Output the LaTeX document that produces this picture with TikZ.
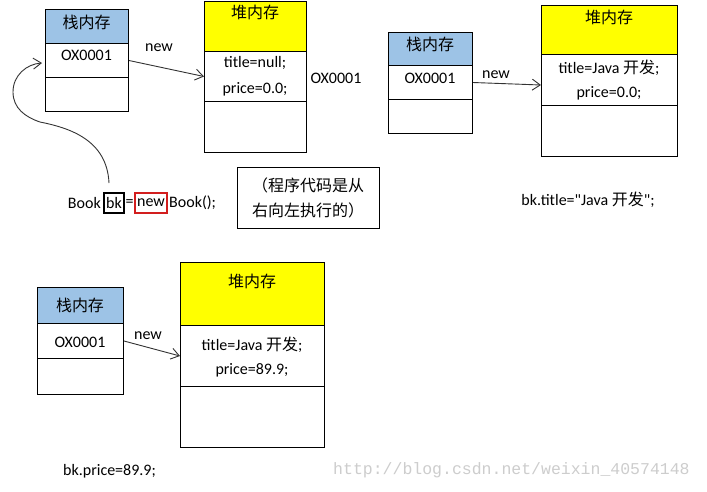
\documentclass[tikz,border=0pt]{standalone}
\usepackage{fontspec}
\setmainfont{Carlito}[Ligatures=TeXOff]
\newfontfamily\cjk{Noto Sans CJK SC}
\newfontfamily\wmfont{Liberation Mono}
\usetikzlibrary{arrows.meta}
\definecolor{stackblue}{RGB}{157,195,230}
\definecolor{heapyellow}{RGB}{255,255,0}
\definecolor{wmgray}{RGB}{205,205,205}
\definecolor{codered}{RGB}{210,30,30}
\begin{document}
\begin{tikzpicture}[x=1pt,y=-1pt,
  cell/.style={draw=black, line width=1pt, rectangle, inner sep=0pt, anchor=north west},
  lbl/.style={font=\fontsize{16}{19}\selectfont, inner sep=0pt},
  ptr/.style={draw=black!80, line width=0.9pt, -{Straight Barb[length=8pt,width=11pt]}},
]
\useasboundingbox[fill=white] (0,0) rectangle (707,491);

% ---------- stage 1 ----------
\node[cell, fill=stackblue, minimum width=83pt, minimum height=34pt] (s1a) at (45,9) {};
\node[cell, minimum width=83pt, minimum height=34pt] (s1b) at (45,43) {};
\node[cell, minimum width=83pt, minimum height=34pt] (s1c) at (45,77) {};
\node[lbl] (s1at) at (86.5,22) {\cjk 栈内存};
\node[lbl] (s1bt) at (86.5,55) {OX0001};

\node[cell, fill=heapyellow, minimum width=102pt, minimum height=50pt] (h1a) at (204,1) {};
\node[cell, minimum width=102pt, minimum height=50pt] (h1b) at (204,51) {};
\node[cell, minimum width=102pt, minimum height=51pt] (h1c) at (204,101) {};
\node[lbl] (h1at) at (255,12) {\cjk 堆内存};
\node[lbl] (h1b1) at (255,63) {title=null;};
\node[lbl] (h1b2) at (255,89) {price=0.0;};
\node[lbl] (addr1) at (336,78) {OX0001};

\node[lbl] (n1) at (159,48) {new};
\draw[ptr] (s1b.east) -- (h1b.west);

% code line
\node[lbl, anchor=east] (cbook) at (101,203) {Book};
\node[lbl, draw=black, line width=1.8pt, minimum width=20pt, minimum height=20pt] (cbk) at (114,203) {bk};
\node[lbl] (ceq) at (129.5,203) {=};
\node[lbl, draw=codered, line width=1.5pt, minimum width=32pt, minimum height=20pt] (cnew) at (151,203) {new};
\node[lbl, anchor=west] (cend) at (169,203) {Book();};

\coordinate (cs) at (109,183);
\coordinate (ce) at (42,63);
\draw[ptr] (cs) .. controls (107,140) and (70,128) .. (40,122)
  .. controls (25,117) and (13,108) .. (13,92)
  .. controls (13,75) and (27,64) .. (ce);

\node[draw=black, line width=0.8pt, minimum width=142pt, minimum height=61pt,
  inner sep=0pt, align=left, font=\cjk\fontsize{16}{25}\selectfont] (note) at (308,197.5)
  {（程序代码是从\\右向左执行的）};

% ---------- stage 2 ----------
\node[cell, fill=stackblue, minimum width=84pt, minimum height=33pt] (s2a) at (388,32) {};
\node[cell, minimum width=84pt, minimum height=34pt] (s2b) at (388,65) {};
\node[cell, minimum width=84pt, minimum height=34pt] (s2c) at (388,99) {};
\node[lbl] (s2at) at (430,44) {\cjk 栈内存};
\node[lbl] (s2bt) at (430,78) {OX0001};

\node[cell, fill=heapyellow, minimum width=136pt, minimum height=49pt] (h2a) at (541,5) {};
\node[cell, minimum width=136pt, minimum height=51pt] (h2b) at (541,54) {};
\node[cell, minimum width=136pt, minimum height=51pt] (h2c) at (541,105) {};
\node[lbl] (h2at) at (609,17) {\cjk 堆内存};
\node[lbl] (h2b1) at (609,68) {title=Java {\cjk 开发};};
\node[lbl] (h2b2) at (609,93) {price=0.0;};

\node[lbl] (n2) at (496,75) {new};
\draw[ptr] (s2b.east) -- ([yshift=-5pt]h2b.west);

\node[lbl] (t2) at (588,200) {bk.title="Java {\cjk 开发}";};

% ---------- stage 3 ----------
\node[cell, fill=stackblue, minimum width=86pt, minimum height=36pt] (s3a) at (37,287) {};
\node[cell, minimum width=86pt, minimum height=35pt] (s3b) at (37,323) {};
\node[cell, minimum width=86pt, minimum height=36pt] (s3c) at (37,358) {};
\node[lbl] (s3at) at (80,305) {\cjk 栈内存};
\node[lbl] (s3bt) at (80,342) {OX0001};

\node[cell, fill=heapyellow, minimum width=144pt, minimum height=63pt] (h3a) at (180,262) {};
\node[cell, minimum width=144pt, minimum height=61pt] (h3b) at (180,325) {};
\node[cell, minimum width=144pt, minimum height=61pt] (h3c) at (180,386) {};
\node[lbl] (h3at) at (252,281) {\cjk 堆内存};
\node[lbl] (h3b1) at (252,345) {title=Java {\cjk 开发};};
\node[lbl] (h3b2) at (252,370) {price=89.9;};

\node[lbl] (n3) at (148,336) {new};
\draw[ptr] (s3b.east) -- (h3b.west);

\node[lbl] (t3) at (109.5,471) {bk.price=89.9;};

\node[font=\wmfont\fontsize{16.5}{18}\selectfont, text=wmgray, anchor=west, inner sep=0pt] (wm) at (333,470) {http://blog.csdn.net/weixin\_40574148};
\end{tikzpicture}
\end{document}
